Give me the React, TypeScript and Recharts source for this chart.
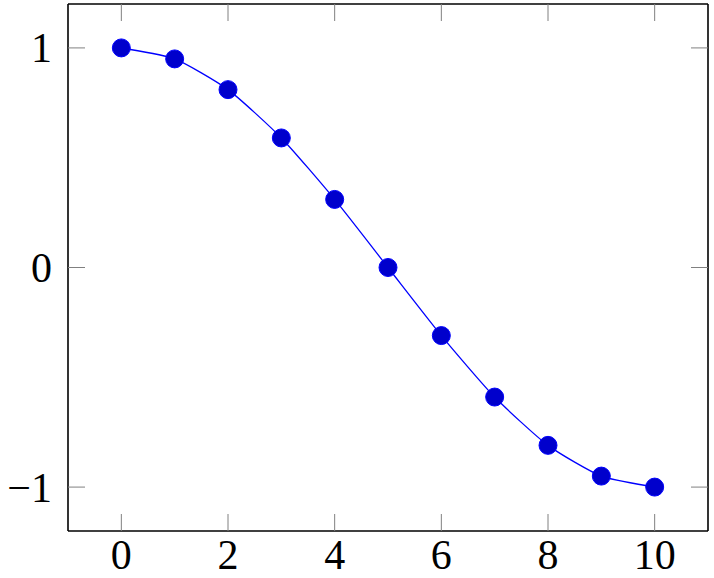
import React from 'react';
import { LineChart, Line, XAxis, YAxis } from 'recharts';

const xValues = [0, 1, 2, 3, 4, 5, 6, 7, 8, 9, 10];
const yValues = [1, 0.95, 0.81, 0.59, 0.31, 0, -0.31, -0.59, -0.81, -0.95, -1];
const xTicks = [0, 2, 4, 6, 8, 10];
const yTicks = [-1, 0, 1];

const data = xValues.map((x, i) => ({ x, y: yValues[i] }));

const FONT = '"Liberation Serif", "DejaVu Serif", serif';
const TICK_LEN = 17;
const TICK_COLOR = '#808080';

const fmt = (v: number) => (v < 0 ? '\u2212' + Math.abs(v) : String(v));

// cardinal-ish spline, softer than catmull-rom (like pgfplots "smooth")
const smoothCurve = (k: number) => (context: any) => {
  let pts: number[][] = [];
  return {
    areaStart() {},
    areaEnd() {},
    lineStart() {
      pts = [];
    },
    point(x: number, y: number) {
      pts.push([+x, +y]);
    },
    lineEnd() {
      if (!pts.length) return;
      context.moveTo(pts[0][0], pts[0][1]);
      for (let i = 0; i < pts.length - 1; i++) {
        const p0 = pts[i - 1] || pts[i];
        const p1 = pts[i];
        const p2 = pts[i + 1];
        const p3 = pts[i + 2] || p2;
        context.bezierCurveTo(
          p1[0] + k * (p2[0] - p0[0]),
          p1[1] + k * (p2[1] - p0[1]),
          p2[0] - k * (p3[0] - p1[0]),
          p2[1] - k * (p3[1] - p1[1]),
          p2[0],
          p2[1]
        );
      }
    },
  };
};

const BottomTick = (props: any) => {
  const { x, y, payload } = props;
  return (
    <g>
      <line x1={x} x2={x} y1={y} y2={y - TICK_LEN} stroke={TICK_COLOR} strokeWidth={1} />
      <text x={x} y={y + 38} textAnchor="middle" fontFamily={FONT} fontSize={42} fill="#000">
        {fmt(payload.value)}
      </text>
    </g>
  );
};

const TopTick = (props: any) => {
  const { x, y } = props;
  return <line x1={x} x2={x} y1={y} y2={y + TICK_LEN} stroke={TICK_COLOR} strokeWidth={1} />;
};

const LeftTick = (props: any) => {
  const { x, y, payload } = props;
  return (
    <g>
      <line x1={x} x2={x + TICK_LEN} y1={y} y2={y} stroke={TICK_COLOR} strokeWidth={1} />
      <text x={x - 16} y={y + 14.5} textAnchor="end" fontFamily={FONT} fontSize={42} fill="#000">
        {fmt(payload.value)}
      </text>
    </g>
  );
};

const RightTick = (props: any) => {
  const { x, y } = props;
  return <line x1={x} x2={x - TICK_LEN} y1={y} y2={y} stroke={TICK_COLOR} strokeWidth={1} />;
};

const frame = { stroke: '#000', strokeWidth: 1.6 };

export default function App() {
  return (
    <div style={{ position: 'absolute', left: 0, top: 0, background: '#fff' }}>
      <LineChart width={714} height={578} data={data} margin={{ top: 3, right: 5, left: 0, bottom: 0 }}>
        <XAxis
          xAxisId="bottom"
          dataKey="x"
          type="number"
          domain={[-1, 11]}
          ticks={xTicks}
          height={47}
          tickSize={0}
          tickMargin={0}
          tickLine={false}
          axisLine={frame}
          tick={<BottomTick />}
          interval={0}
        />
        <XAxis
          xAxisId="top"
          orientation="top"
          dataKey="x"
          type="number"
          domain={[-1, 11]}
          ticks={xTicks}
          height={1}
          tickSize={0}
          tickMargin={0}
          tickLine={false}
          axisLine={frame}
          tick={<TopTick />}
          interval={0}
        />
        <YAxis
          yAxisId="left"
          type="number"
          domain={[-1.2, 1.2]}
          ticks={yTicks}
          width={68}
          tickSize={0}
          tickMargin={0}
          tickLine={false}
          axisLine={frame}
          tick={<LeftTick />}
          interval={0}
        />
        <YAxis
          yAxisId="right"
          orientation="right"
          type="number"
          domain={[-1.2, 1.2]}
          ticks={yTicks}
          width={1}
          tickSize={0}
          tickMargin={0}
          tickLine={false}
          axisLine={frame}
          tick={<RightTick />}
          interval={0}
        />
        <Line
          xAxisId="bottom"
          yAxisId="left"
          type={smoothCurve(0.1) as any}
          dataKey="y"
          stroke="#0000ff"
          strokeWidth={1.3}
          dot={{ r: 9, fill: '#0000cc', stroke: '#0000ff', strokeWidth: 1 }}
          isAnimationActive={false}
        />
        <Line
          xAxisId="top"
          yAxisId="right"
          dataKey="y"
          stroke="none"
          dot={false}
          activeDot={false}
          legendType="none"
          isAnimationActive={false}
        />
      </LineChart>
    </div>
  );
}
